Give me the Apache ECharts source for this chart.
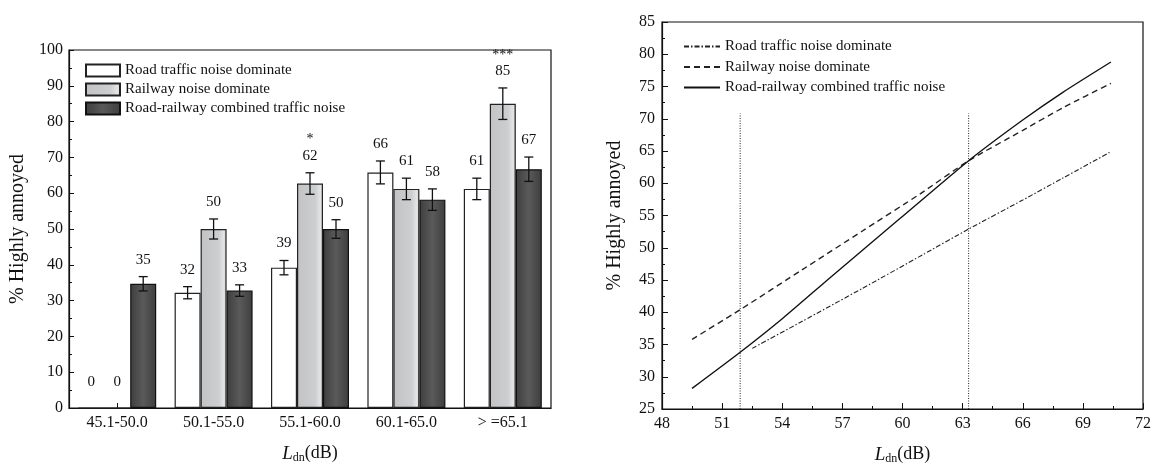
<!DOCTYPE html>
<html>
<head>
<meta charset="utf-8">
<script src="https://cdn.jsdelivr.net/npm/echarts@6/dist/echarts.min.js"></script>
<style>
html,body{margin:0;padding:0;background:#fff;}
#left{position:absolute;left:0;top:0;width:576px;height:466px;}
#right{position:absolute;left:576px;top:0;width:576px;height:466px;}
</style>
</head>
<body>
<div id="left"></div>
<div id="right"></div>
<script>
// ---------- data: left panel (bar chart) ----------
const categories = ['45.1-50.0', '50.1-55.0', '55.1-60.0', '60.1-65.0', '> =65.1'];
const seriesNames = ['Road traffic noise dominate', 'Railway noise dominate', 'Road-railway combined traffic noise'];
const roadValues = [0, 32.2, 39.2, 65.8, 61.2];
const railValues = [0, 50.0, 62.7, 61.2, 85.0];
const combinedValues = [34.7, 32.8, 50.0, 58.2, 66.7];
const roadErrors = [0, 1.7, 2.0, 3.2, 3.0];
const railErrors = [0, 2.8, 3.0, 3.0, 4.4];
const combinedErrors = [2.0, 1.6, 2.6, 3.0, 3.4];
const roadLabels = ['0', '32', '39', '66', '61'];
const railLabels = ['0', '50', '62', '61', '85'];
const combinedLabels = ['35', '33', '50', '58', '67'];
const railSignificance = ['', '', '*', '', '***'];

// ---------- data: right panel (curves) ----------
const roadCurve = [[52.5, 34.4], [55, 38.6], [58, 43.7], [61, 48.9], [63.3, 52.9], [66, 57.4], [68, 60.8], [70.4, 64.9]];
const railCurve = [[49.5, 35.8], [51.9, 40.4], [55, 46.6], [58, 52.6], [60.9, 58.4], [63.3, 63.5], [66, 68.2], [68, 71.7], [70.4, 75.5]];
const combinedCurve = [[49.5, 28.2], [51.9, 33.8], [54, 39.0], [56.4, 45.4], [59.9, 54.6], [63.3, 63.5], [66, 69.8], [68, 74.1], [70.4, 78.8]];
const thresholdX = [51.9, 63.3];
const thresholdY = [25, 70.8];

// ---------- style ----------
const FONT = '"Liberation Serif", "DejaVu Serif", serif';
const INK = '#111';
const BAR_W = 26;

function axisNameRich() {
  return {
    i: { fontFamily: FONT, fontStyle: 'italic', fontSize: 19, color: INK },
    s: { fontFamily: FONT, fontSize: 12, color: INK, padding: [9, 0, 0, 0] },
    n: { fontFamily: FONT, fontSize: 18, color: INK }
  };
}

function errorSeries(k, values, errors, labels, sig) {
  return {
    type: 'custom',
    name: 'err' + k,
    z: 10,
    silent: true,
    data: values.map((v, i) => [i, v]),
    renderItem: function (params, api) {
      const i = params.dataIndex;
      const v = values[i], e = errors[i];
      const c = api.coord([i, v]);
      const x = c[0] + (k - 1) * BAR_W;
      const top = api.coord([i, v + e])[1];
      const bot = api.coord([i, v - e])[1];
      const base = api.coord([i, 0])[1];
      const ls = { stroke: '#111', lineWidth: 1.3 };
      const children = [];
      if (e > 0) {
        children.push({ type: 'line', shape: { x1: x, y1: top, x2: x, y2: bot }, style: ls });
        children.push({ type: 'line', shape: { x1: x - 4.5, y1: top, x2: x + 4.5, y2: top }, style: ls });
        children.push({ type: 'line', shape: { x1: x - 4.5, y1: bot, x2: x + 4.5, y2: bot }, style: ls });
      }
      const ly = Math.min(top - 17, base - 26);
      children.push({ type: 'text', style: { text: labels[i], x: x, y: ly, align: 'center', verticalAlign: 'middle', font: '15px ' + FONT, fill: INK } });
      if (sig && sig[i]) {
        children.push({ type: 'text', style: { text: sig[i], x: x, y: ly - 16, align: 'center', verticalAlign: 'middle', font: '14px ' + FONT, fill: INK } });
      }
      return { type: 'group', children: children };
    }
  };
}

const leftChart = echarts.init(document.getElementById('left'), null, { renderer: 'canvas' });
leftChart.setOption({
  animation: false,
  backgroundColor: '#fff',
  grid: { left: 69, top: 50, width: 482, height: 358, containLabel: false, outerBoundsMode: 'none', show: true, borderColor: '#111', borderWidth: 1.2, backgroundColor: 'transparent' },
  legend: {
    data: seriesNames,
    orient: 'vertical',
    left: 85, top: 63, padding: 0,
    itemWidth: 34, itemHeight: 12, itemGap: 4,
    icon: 'rect',
    textStyle: { fontFamily: FONT, fontSize: 15, color: INK },
    selectedMode: false
  },
  xAxis: {
    type: 'category',
    data: categories,
    axisLine: { lineStyle: { color: '#111', width: 1.2 } },
    axisTick: { show: true, inside: true, alignWithLabel: true, length: 5, lineStyle: { color: '#111' } },
    axisLabel: { fontFamily: FONT, fontSize: 16, color: INK, margin: 7 },
    name: '{i|L}{s|dn}{n|(dB)}',
    nameLocation: 'middle',
    nameGap: 35,
    nameTextStyle: { rich: axisNameRich() }
  },
  yAxis: {
    type: 'value',
    min: 0, max: 100, interval: 10,
    splitLine: { show: false },
    axisLine: { show: true, lineStyle: { color: '#111', width: 1.2 } },
    axisTick: { show: true, inside: true, length: 5, lineStyle: { color: '#111' } },
    minorTick: { show: true, splitNumber: 2, length: 3, lineStyle: { color: '#111' } },
    axisLabel: { fontFamily: FONT, fontSize: 16, color: INK, margin: 6 },
    name: '% Highly annoyed',
    nameLocation: 'middle',
    nameGap: 34,
    nameTextStyle: { fontFamily: FONT, fontSize: 20, color: INK }
  },
  series: [
    {
      type: 'bar', name: seriesNames[0], data: roadValues, barWidth: BAR_W, barGap: '0%',
      itemStyle: { color: '#ffffff', borderColor: '#222', borderWidth: 1.2 }
    },
    {
      type: 'bar', name: seriesNames[1], data: railValues, barWidth: BAR_W, barGap: '0%',
      itemStyle: {
        color: new echarts.graphic.LinearGradient(0, 0, 1, 0, [
          { offset: 0, color: '#c2c3c5' }, { offset: 0.7, color: '#cdced0' }, { offset: 0.9, color: '#e4e5e6' }, { offset: 1, color: '#c6c7c9' }
        ]),
        borderColor: '#222', borderWidth: 1.2
      }
    },
    {
      type: 'bar', name: seriesNames[2], data: combinedValues, barWidth: BAR_W, barGap: '0%',
      itemStyle: {
        color: new echarts.graphic.LinearGradient(0, 0, 1, 0, [
          { offset: 0, color: '#3e3e3e' }, { offset: 0.5, color: '#5a5a5a' }, { offset: 1, color: '#3e3e3e' }
        ]),
        borderColor: '#111', borderWidth: 1.2
      }
    },
    errorSeries(0, roadValues, roadErrors, roadLabels, null),
    errorSeries(1, railValues, railErrors, railLabels, railSignificance),
    errorSeries(2, combinedValues, combinedErrors, combinedLabels, null)
  ]
});

const rightChart = echarts.init(document.getElementById('right'), null, { renderer: 'canvas' });
const thresholdSeries = thresholdX.map((x, idx) => ({
  type: 'line', name: 'threshold' + idx,
  data: [[x, thresholdY[0]], [x, thresholdY[1]]],
  symbol: 'none', silent: true,
  lineStyle: { color: '#222', width: 1, type: [1, 1.5] }
}));
rightChart.setOption({
  animation: false,
  backgroundColor: '#fff',
  grid: { left: 86, top: 22, width: 481, height: 387, containLabel: false, outerBoundsMode: 'none', show: true, borderColor: '#111', borderWidth: 1.2, backgroundColor: 'transparent' },
  legend: {
    data: seriesNames,
    orient: 'vertical',
    left: 107, top: 39, padding: 0,
    itemWidth: 36, itemHeight: 12, itemGap: 5.5,
    itemStyle: { color: 'rgba(0,0,0,0)', borderWidth: 0, opacity: 0 },
    textStyle: { fontFamily: FONT, fontSize: 15, color: INK },
    selectedMode: false
  },
  xAxis: {
    type: 'value',
    min: 48, max: 72, interval: 3,
    splitLine: { show: false },
    axisLine: { lineStyle: { color: '#111', width: 1.2 } },
    axisTick: { show: true, inside: true, length: 6, lineStyle: { color: '#111' } },
    minorTick: { show: true, splitNumber: 2, length: 3, lineStyle: { color: '#111' } },
    axisLabel: { fontFamily: FONT, fontSize: 16, color: INK, margin: 7 },
    name: '{i|L}{s|dn}{n|(dB)}',
    nameLocation: 'middle',
    nameGap: 35,
    nameTextStyle: { rich: axisNameRich() }
  },
  yAxis: {
    type: 'value',
    min: 25, max: 85, interval: 5,
    splitLine: { show: false },
    axisLine: { show: true, lineStyle: { color: '#111', width: 1.2 } },
    axisTick: { show: true, inside: true, length: 6, lineStyle: { color: '#111' } },
    minorTick: { show: true, splitNumber: 2, length: 3, lineStyle: { color: '#111' } },
    axisLabel: { fontFamily: FONT, fontSize: 16, color: INK, margin: 7 },
    name: '% Highly annoyed',
    nameLocation: 'middle',
    nameGap: 37,
    nameTextStyle: { fontFamily: FONT, fontSize: 20, color: INK }
  },
  series: [
    {
      type: 'line', name: seriesNames[0], data: roadCurve, symbol: 'none', smooth: 0.2,
      itemStyle: { color: '#222' },
      lineStyle: { color: '#222', width: 1.1, type: [5, 2, 1.5, 2] }
    },
    {
      type: 'line', name: seriesNames[1], data: railCurve, symbol: 'none', smooth: 0.2,
      itemStyle: { color: '#222' },
      lineStyle: { color: '#222', width: 1.4, type: [6, 4] }
    },
    {
      type: 'line', name: seriesNames[2], data: combinedCurve, symbol: 'none', smooth: 0.2,
      itemStyle: { color: '#111' },
      lineStyle: { color: '#111', width: 1.4, type: 'solid' }
    }
  ].concat(thresholdSeries)
});
</script>
</body>
</html>
